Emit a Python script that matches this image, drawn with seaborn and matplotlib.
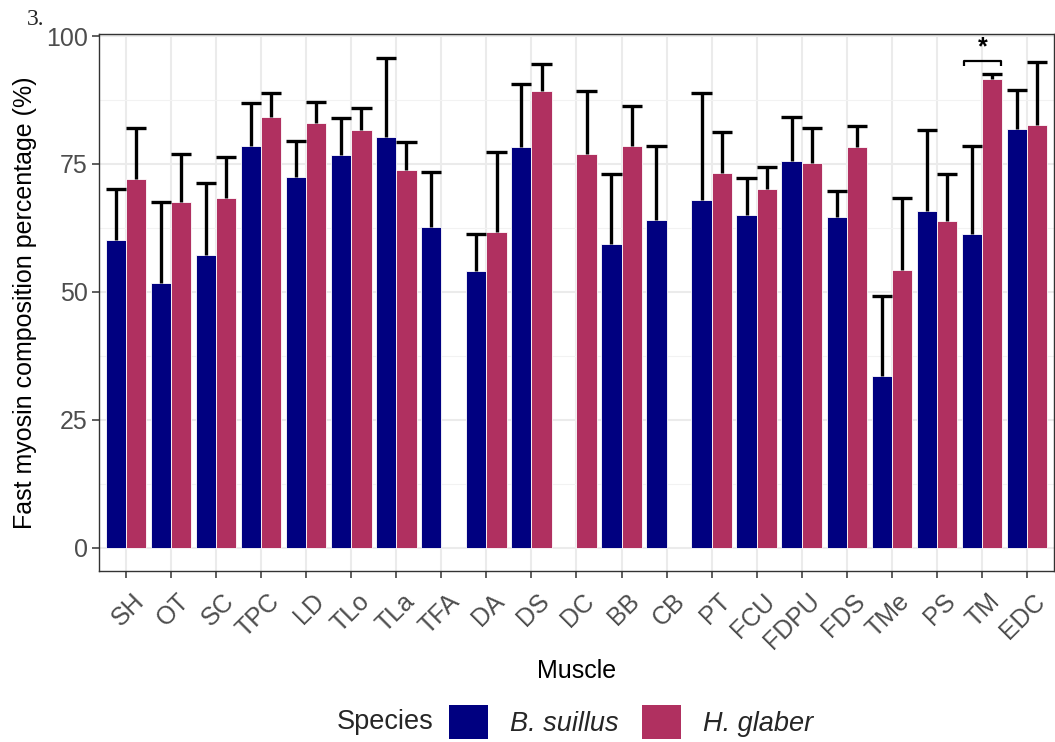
import numpy as np
import pandas as pd
import matplotlib
matplotlib.use("Agg")
import matplotlib.pyplot as plt
import matplotlib.colors as mcolors
import matplotlib.transforms as mtransforms
import seaborn as sns
from matplotlib.patches import Patch
from matplotlib.ticker import FixedLocator, MultipleLocator

# Mean fast myosin composition (%) and standard deviation per muscle
muscles = ["SH", "OT", "SC", "TPC", "LD", "TLo", "TLa", "TFA", "DA", "DS", "DC",
           "BB", "CB", "PT", "FCU", "FDPU", "FDS", "TMe", "PS", "TM", "EDC"]
species = ["B. suillus", "H. glaber"]

bs_mean = [60.1, 51.7, 57.2, 78.5, 72.5, 76.7, 80.2, 62.7, 54.1, 78.4, None,
           59.4, 64.0, 67.9, 65.0, 75.5, 64.6, 33.6, 65.9, 61.3, 81.8]
bs_sd = [10.0, 15.9, 14.0, 8.5, 6.9, 7.2, 15.6, 10.7, 7.2, 12.2, None,
         13.6, 14.6, 21.0, 7.3, 8.7, 5.1, 15.6, 15.7, 17.3, 7.7]
hg_mean = [72.0, 67.5, 68.3, 84.1, 83.0, 81.7, 73.9, None, 61.8, 89.3, 77.0,
           78.6, None, 73.2, 70.2, 75.2, 78.3, 54.3, 63.8, 91.7, 82.6]
hg_sd = [10.0, 9.4, 8.1, 4.8, 4.2, 4.3, 5.4, None, 15.5, 5.3, 12.3,
         7.7, None, 8.1, 4.3, 6.8, 4.2, 14.0, 9.2, 0.9, 12.3]

y_ticks = [0, 25, 50, 75, 100]
sig_muscle = "TM"
sig_label = "*"
sig_level = 95.1

palette = {"B. suillus": "#000080", "H. glaber": "#B03060"}

sns.set_theme(style="ticks")
plt.rcParams["font.family"] = ["Liberation Sans", "DejaVu Sans"]

rows = []
for sp, means, sds in ((species[0], bs_mean, bs_sd), (species[1], hg_mean, hg_sd)):
    for m, mu, sd in zip(muscles, means, sds):
        if mu is not None:
            rows.append({"Muscle": m, "Species": sp, "mean": mu, "sd": sd})
df = pd.DataFrame(rows)

W, H = 1055, 742
fig = plt.figure(figsize=(W / 100, H / 100), dpi=100)
fig.patch.set_facecolor("white")
ax = fig.add_axes([99 / W, 1 - 571 / H, (1054 - 99) / W, (571 - 34) / H])

sns.barplot(data=df, x="Muscle", y="mean", hue="Species", order=muscles,
            hue_order=species, palette=palette, width=0.9, errorbar=None,
            saturation=1, edgecolor="white", linewidth=0.6, legend=False,
            ax=ax, zorder=2)

# Upper error bars (mean + SD) drawn on top of each bar
sd_lookup = {(r.Muscle, r.Species): r.sd for r in df.itertuples()}
hex_to_species = {mcolors.to_hex(c): s for s, c in palette.items()}
for cont in ax.containers:
    for bar in cont:
        sp = hex_to_species.get(mcolors.to_hex(bar.get_facecolor()))
        xc = bar.get_x() + bar.get_width() / 2
        m = muscles[int(round(xc))]
        if sp is None or (m, sp) not in sd_lookup:
            continue
        top = bar.get_height()
        sd = sd_lookup[(m, sp)]
        ax.vlines(xc, top, top + sd, color="black", lw=2.4, zorder=3)
        ax.hlines(top + sd, bar.get_x(), bar.get_x() + bar.get_width(),
                  color="black", lw=2.4, zorder=3)

# Significance bracket
xi = muscles.index(sig_muscle)
ax.plot([xi - 0.4, xi - 0.4, xi + 0.42, xi + 0.42],
        [sig_level - 1.0, sig_level, sig_level, sig_level - 1.0],
        color="black", lw=1.6, zorder=3, solid_capstyle="butt")
ax.text(xi + 0.01, sig_level + 0.4, sig_label, ha="center", va="bottom",
        fontsize=18, fontweight="bold", color="black")

ax.set_xlim(-0.6, len(muscles) - 0.4)
ax.set_ylim(-4.55, 100.4)
ax.yaxis.set_major_locator(FixedLocator(y_ticks))
ax.yaxis.set_minor_locator(MultipleLocator(12.5))
ax.set_axisbelow(True)
ax.grid(which="major", axis="both", color="#EBEBEB", lw=1.5, zorder=0)
ax.grid(which="minor", axis="y", color="#F2F2F2", lw=0.8, zorder=0)
ax.tick_params(which="minor", length=0)
ax.tick_params(which="major", length=5, width=1.1, color="#333333",
               labelcolor="#4D4D4D", labelsize=18, pad=3)
ax.tick_params(axis="x", which="major", pad=8)
for s in ax.spines.values():
    s.set_visible(True)
    s.set_color("#333333")
    s.set_linewidth(1.0)

shift = mtransforms.ScaledTranslation(6 / 100, 0, fig.dpi_scale_trans)
for lab in ax.get_xticklabels():
    lab.set_rotation(45)
    lab.set_ha("right")
    lab.set_va("top")
    lab.set_rotation_mode("anchor")
    lab.set_transform(lab.get_transform() + shift)

ax.set_ylabel("Fast myosin composition percentage (%)", fontsize=18,
              color="black", labelpad=8)
ax.set_xlabel("Muscle", fontsize=18, color="black")
ax.xaxis.set_label_coords((577 - 99) / (1054 - 99), -(671 - 571) / (571 - 34))
ax.xaxis.label.set_va("center")
ax.yaxis.set_label_coords(-(99 - 25) / (1054 - 99), 0.5)
ax.yaxis.label.set_va("center")

# Legend: title on the left, keys in one row
handles = [Patch(facecolor=palette[s], edgecolor="none") for s in species]
fig.text(337 / W, 1 - 722 / H, "Species", fontsize=19.5, ha="left", va="center")
fig.legend(handles, species, loc="center left",
           bbox_to_anchor=(449 / W, 1 - 722 / H), ncol=2, frameon=False,
           prop={"style": "italic", "size": 19.5}, handlelength=1.45,
           handleheight=1.5, handletextpad=0.8, columnspacing=0.85,
           borderpad=0, borderaxespad=0)

fig.text(27 / W, 1 - 25 / H, "3.", fontsize=17, family="Liberation Serif",
         ha="left", va="baseline")

fig.savefig("out.png", dpi=100, facecolor="white")
